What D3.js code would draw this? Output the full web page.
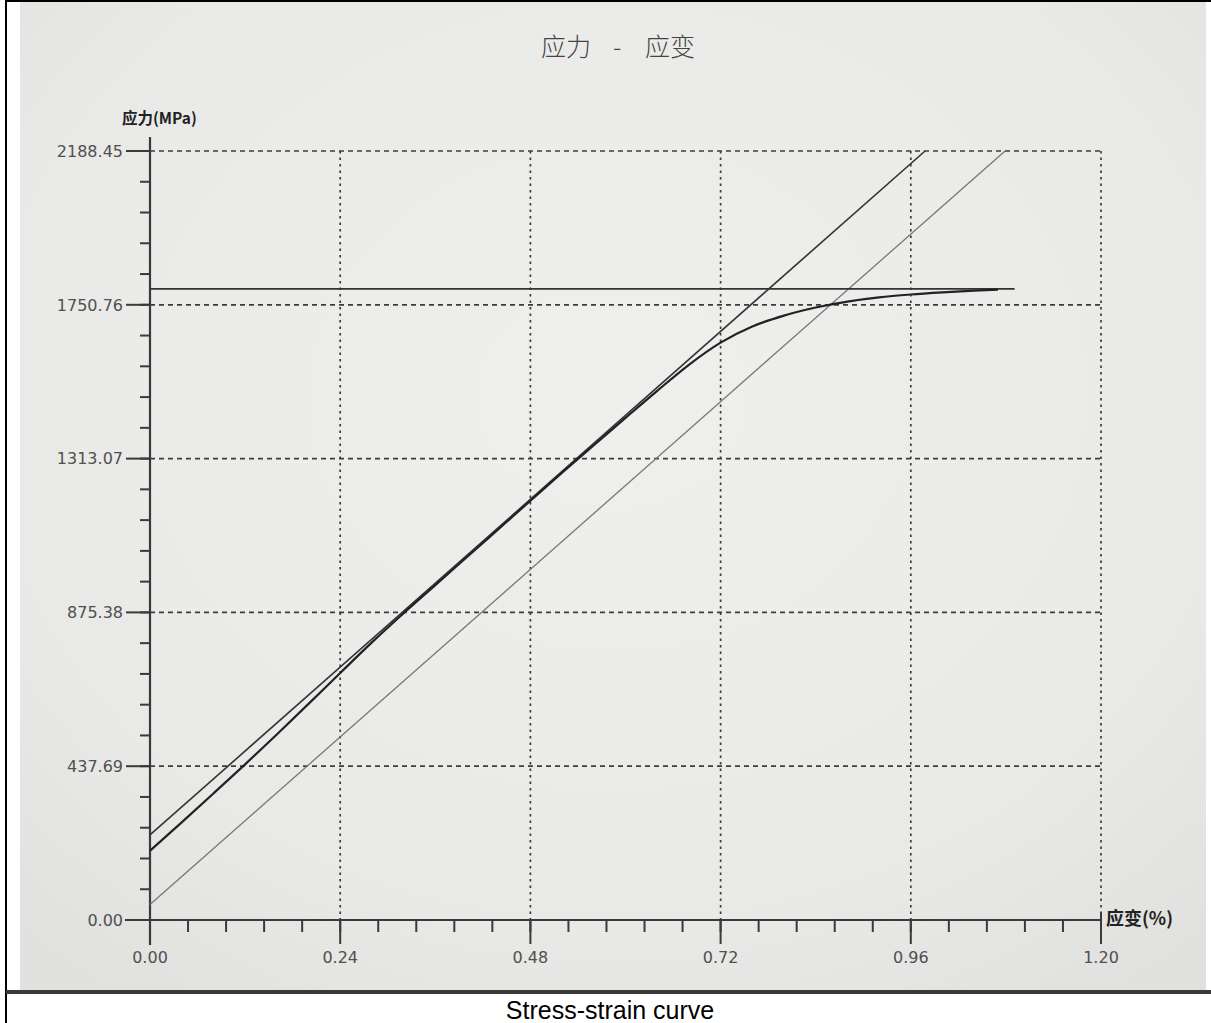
<!DOCTYPE html>
<html>
<head>
<meta charset="utf-8">
<script src="https://cdn.jsdelivr.net/npm/d3@7"></script>
<style>
html,body{margin:0;padding:0;background:#fff;}
svg{display:block;}
</style>
</head>
<body>
<svg id="chart" width="1211" height="1023"></svg>
<script>
// ---- data ----
const titleLeft = "应力";
const titleDash = "-";
const titleRight = "应变";
const yAxisLabel = "应力(MPa)";
const xAxisLabel = "应变(%)";
const caption = "Stress-strain curve";
const xTicks = [0.00, 0.24, 0.48, 0.72, 0.96, 1.20];
const yTicks = [0.00, 437.69, 875.38, 1313.07, 1750.76, 2188.45];
// measured stress-strain curve
const curveStrain = [0, 0.04, 0.08, 0.12, 0.16, 0.20, 0.24, 0.28, 0.32, 0.36, 0.40, 0.44, 0.48, 0.52, 0.56, 0.60, 0.64, 0.68, 0.72, 0.76, 0.80, 0.84, 0.88, 0.92, 0.96, 1.00, 1.04, 1.07];
const curveStress = [197, 278, 360, 443, 528, 615, 703, 790, 873, 953, 1033, 1113, 1193, 1273, 1351, 1429, 1506, 1580, 1643, 1689, 1720, 1743, 1760, 1772, 1780, 1786, 1791, 1794];
// elastic (tangent) line
const tangentStrain = [0, 0.978];
const tangentStress = [242, 2188.45];
// offset line
const offsetStrain = [0, 1.079];
const offsetStress = [44, 2188.45];
// max stress horizontal line
const maxStrain = [0, 1.091];
const maxStress = [1796, 1796];

// ---- drawing ----
const svg = d3.select("#chart");

svg.append("rect").attr("x",0).attr("y",0).attr("width",1211).attr("height",1023).attr("fill","#fff");
const defs = svg.append("defs");
const grad = defs.append("radialGradient").attr("id","paper").attr("cx","50%").attr("cy","40%").attr("r","75%");
grad.append("stop").attr("offset","0%").attr("stop-color","#efefed");
grad.append("stop").attr("offset","70%").attr("stop-color","#e9e9e7");
grad.append("stop").attr("offset","100%").attr("stop-color","#e0e0de");
svg.append("rect").attr("x",20).attr("y",2).attr("width",1186).attr("height",988).attr("fill","url(#paper)");
svg.append("rect").attr("x",5).attr("y",0).attr("width",2).attr("height",1023).attr("fill","#000");
svg.append("rect").attr("x",5).attr("y",0).attr("width",1206).attr("height",2).attr("fill","#000");
svg.append("rect").attr("x",6).attr("y",990).attr("width",1205).attr("height",4).attr("fill","#3a3a3a");
svg.append("text").attr("x",610).attr("y",1019).attr("text-anchor","middle")
  .attr("font-family","'Liberation Sans', Arial, sans-serif").attr("font-size",25).attr("fill","#000")
  .text(caption);

const x = d3.scaleLinear().domain([0, 1.2]).range([150, 1101]);
const y = d3.scaleLinear().domain([0, 2188.45]).range([920, 151]);

const ink = "#3a3a3a";

// grid
const g = svg.append("g");
g.selectAll(".hg").data(yTicks.slice(1)).join("line")
  .attr("x1", x(0)).attr("x2", x(1.2))
  .attr("y1", d => y(d)).attr("y2", d => y(d))
  .attr("stroke", "#3c3c3c").attr("stroke-width", 1.7).attr("stroke-dasharray", "5,4");
g.selectAll(".vg").data(xTicks.slice(1)).join("line")
  .attr("x1", d => x(d)).attr("x2", d => x(d))
  .attr("y1", y(2188.45)).attr("y2", y(0))
  .attr("stroke", "#3c3c3c").attr("stroke-width", 1.7).attr("stroke-dasharray", "2.5,4");

// axes lines
svg.append("line").attr("x1", x(0)).attr("x2", x(0)).attr("y1", 137).attr("y2", 945)
  .attr("stroke", ink).attr("stroke-width", 2.2);
svg.append("line").attr("x1", 125).attr("x2", x(1.2)).attr("y1", y(0)).attr("y2", y(0))
  .attr("stroke", ink).attr("stroke-width", 2.2);

// y ticks
const yMinor = d3.range(0, 26).map(i => i * 2188.45 / 25);
svg.selectAll(".ymin").data(yMinor).join("line")
  .attr("x1", x(0) - 10).attr("x2", x(0))
  .attr("y1", d => y(d)).attr("y2", d => y(d))
  .attr("stroke", ink).attr("stroke-width", 2);
svg.selectAll(".ymaj").data(yTicks).join("line")
  .attr("x1", 126).attr("x2", x(0))
  .attr("y1", d => y(d)).attr("y2", d => y(d))
  .attr("stroke", ink).attr("stroke-width", 2);
svg.selectAll(".ylab").data(yTicks).join("text")
  .attr("x", 123).attr("y", d => y(d)).attr("dy", "0.36em")
  .attr("text-anchor", "end").attr("font-family", "'DejaVu Sans', Verdana, sans-serif")
  .attr("font-size", 16).attr("fill", "#505050")
  .text(d => d.toFixed(2));

// x ticks
const xMinor = d3.range(0, 26).map(i => i * 1.2 / 25);
svg.selectAll(".xmin").data(xMinor).join("line")
  .attr("x1", d => x(d)).attr("x2", d => x(d))
  .attr("y1", y(0)).attr("y2", y(0) + 12)
  .attr("stroke", ink).attr("stroke-width", 2);
svg.selectAll(".xmaj").data(xTicks).join("line")
  .attr("x1", d => x(d)).attr("x2", d => x(d))
  .attr("y1", y(0)).attr("y2", 944)
  .attr("stroke", ink).attr("stroke-width", 2);
svg.append("line").attr("x1", x(1.2)).attr("x2", x(1.2)).attr("y1", 912).attr("y2", y(0))
  .attr("stroke", ink).attr("stroke-width", 2);
svg.selectAll(".xlab").data(xTicks).join("text")
  .attr("x", d => x(d)).attr("y", 963)
  .attr("text-anchor", "middle").attr("font-family", "'DejaVu Sans', Verdana, sans-serif")
  .attr("font-size", 16).attr("fill", "#505050")
  .text(d => d.toFixed(2));

// axis titles
svg.append("text").attr("x", 122).attr("y", 124)
  .attr("font-family", "'Noto Sans CJK SC', 'DejaVu Sans', sans-serif").attr("font-weight", "bold")
  .attr("font-size", 15.5).attr("fill", "#222").text(yAxisLabel);
svg.append("text").attr("x", 1106).attr("y", 925)
  .attr("font-family", "'Noto Sans CJK SC', 'DejaVu Sans', sans-serif").attr("font-weight", "bold")
  .attr("font-size", 18).attr("fill", "#222").text(xAxisLabel);

// title
const t = svg.append("text").attr("y", 56)
  .attr("font-family", "'Noto Sans CJK SC', sans-serif").attr("font-weight", 300)
  .attr("font-size", 25).attr("fill", "#444");
t.append("tspan").attr("x", 541).text(titleLeft);
t.append("tspan").attr("x", 613).text(titleDash);
t.append("tspan").attr("x", 645).text(titleRight);

// lines
const line = d3.line().x(d => x(d[0])).y(d => y(d[1]));
const curveLine = d3.line().x(d => x(d[0])).y(d => y(d[1])).curve(d3.curveMonotoneX);
const zip = (a, b) => a.map((v, i) => [v, b[i]]);

svg.append("path").attr("d", line(zip(offsetStrain, offsetStress)))
  .attr("fill", "none").attr("stroke", "#777").attr("stroke-width", 1.3);
svg.append("path").attr("d", line(zip(maxStrain, maxStress)))
  .attr("fill", "none").attr("stroke", "#333").attr("stroke-width", 1.6);
svg.append("path").attr("d", line(zip(tangentStrain, tangentStress)))
  .attr("fill", "none").attr("stroke", "#333").attr("stroke-width", 1.6);
svg.append("path").attr("d", curveLine(zip(curveStrain, curveStress)))
  .attr("fill", "none").attr("stroke", "#222").attr("stroke-width", 2.2);
</script>
</body>
</html>
